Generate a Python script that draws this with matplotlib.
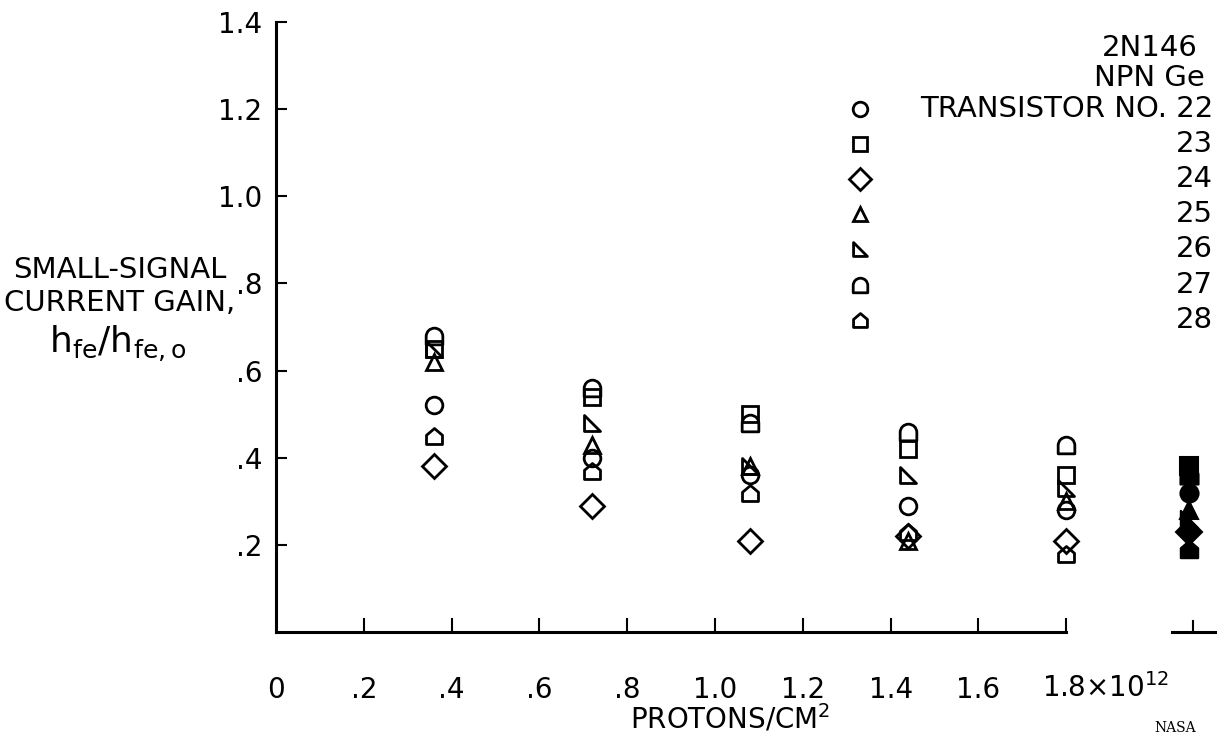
import numpy as np
import matplotlib
matplotlib.use("Agg")
import matplotlib.pyplot as plt
import matplotlib.path as mpath

# ── data ────────────────────────────────────────────────────────────
fluence = [0.36, 0.72, 1.08, 1.44, 1.80]          # x 10^12 protons/cm^2
transistors = ["22", "23", "24", "25", "26", "27", "28"]

gain_22 = [0.52, 0.40, 0.36, 0.29, 0.28]
gain_23 = [0.65, 0.54, 0.50, 0.42, 0.36]
gain_24 = [0.38, 0.29, 0.21, 0.22, 0.21]
gain_25 = [0.62, 0.43, 0.38, 0.21, 0.30]
gain_26 = [0.65, 0.48, 0.38, 0.36, 0.33]
gain_27 = [0.68, 0.56, 0.48, 0.46, 0.43]
gain_28 = [0.45, 0.37, 0.32, 0.23, 0.18]

# solid symbols at the broken-off end of the axis
x_final = 2.08
final_gain = [0.32, 0.38, 0.23, 0.28, 0.26, 0.36, 0.19]

xtick_vals = [0, 0.2, 0.4, 0.6, 0.8, 1.0, 1.2, 1.4, 1.6]
xtick_labels = ["0", ".2", ".4", ".6", ".8", "1.0", "1.2", "1.4", "1.6"]
ytick_vals = [0.2, 0.4, 0.6, 0.8, 1.0, 1.2, 1.4]
ytick_labels = [".2", ".4", ".6", ".8", "1.0", "1.2", "1.4"]

gains = [gain_22, gain_23, gain_24, gain_25, gain_26, gain_27, gain_28]

# ── marker shapes ───────────────────────────────────────────────────
P = mpath.Path
right_tri = P([(-1, -1), (-1, 1), (1, -1), (-1, -1)],
              [P.MOVETO, P.LINETO, P.LINETO, P.CLOSEPOLY])

arc = P.arc(0, 180)
d_verts = [(1, -1)] + list(arc.vertices) + [(-1, -1), (1, -1)]
d_codes = [P.MOVETO, P.LINETO] + list(arc.codes[1:]) + [P.LINETO, P.CLOSEPOLY]
dome = P(d_verts, d_codes)

house = P([(-1, -1), (1, -1), (1, 0.15), (0, 1), (-1, 0.15), (-1, -1)],
          [P.MOVETO, P.LINETO, P.LINETO, P.LINETO, P.LINETO, P.CLOSEPOLY])

markers = ['o', 's', 'D', '^', right_tri, dome, house]
sizes = [12, 11.5, 12.5, 11.5, 11.5, 12, 11.5]

# ── figure ──────────────────────────────────────────────────────────
plt.rcParams['font.family'] = 'DejaVu Sans'
FS = 21      # lettering
TFS = 20     # tick numbers

fig = plt.figure(figsize=(12.22, 7.37), dpi=100)
ax = fig.add_axes([276 / 1222, 105 / 737, 939 / 1222, 610 / 737])
ax.set_xlim(0, 2.139)
ax.set_ylim(0, 1.4)

for g, m, s in zip(gains, markers, sizes):
    ax.plot(fluence, g, ls='none', marker=m, ms=s, mfc='none',
            mec='black', mew=2.0, clip_on=False)

for v, m, s in zip(final_gain, markers, sizes):
    ax.plot([x_final], [v], ls='none', marker=m, ms=s + 1, mfc='black',
            mec='black', mew=1.5, clip_on=False)

# axes lines
for side in ['top', 'right']:
    ax.spines[side].set_visible(False)
ax.spines['left'].set_bounds(0, 1.4)
ax.spines['bottom'].set_bounds(0, 1.8)
ax.spines['left'].set_linewidth(2.2)
ax.spines['bottom'].set_linewidth(2.2)

ax.set_yticks(ytick_vals)
ax.set_yticklabels(ytick_labels)
ax.tick_params(axis='y', direction='in', length=8, width=1.5, pad=10,
               labelsize=TFS)
ax.set_xticks(xtick_vals[1:] + [1.8])
ax.set_xticklabels([])
ax.tick_params(axis='x', direction='in', length=10, width=1.5)

xt = ax.get_xaxis_transform()
for v, lab in zip(xtick_vals, xtick_labels):
    ax.text(v, -0.095, lab, transform=xt, ha='center', va='center',
            fontsize=TFS)
ax.text(1.745, -0.092, "1.8×10$^{12}$", transform=xt, ha='left',
        va='center', fontsize=TFS)

# stub of axis at the far right
ax.plot([2.04, 2.139], [0, 0], color='black', lw=2.2, clip_on=False)
ax.plot([2.09, 2.09], [0, 0.025], color='black', lw=1.5, clip_on=False)

ax.text(1.035, -0.142, "PROTONS/CM$^2$", transform=xt, ha='center',
        va='center', fontsize=20)

# y axis title
fig.text(120 / 1222, 1 - 270 / 737, "SMALL-SIGNAL", ha='center', va='center',
         fontsize=FS)
fig.text(120 / 1222, 1 - 303 / 737, "CURRENT GAIN,", ha='center', va='center',
         fontsize=FS)
fig.text(118 / 1222, 1 - 344 / 737,
         r"h$_{\mathregular{fe}}$/h$_{\mathregular{fe,o}}$",
         ha='center', va='center', fontsize=FS + 5)

# key
ax.text(1.99, 1.34, "2N146", ha='center', va='center', fontsize=FS)
ax.text(1.99, 1.272, "NPN Ge", ha='center', va='center', fontsize=FS)
key_y0, key_dy = 1.2, 0.0805
for i, (lab, m, s) in enumerate(zip(transistors, markers, sizes)):
    yk = key_y0 - i * key_dy
    ax.plot([1.33], [yk], ls='none', marker=m, ms=s - 1.5, mfc='none',
            mec='black', mew=2.0)
    txt = "TRANSISTOR NO. " + lab if i == 0 else lab
    ax.text(2.135, yk, txt, ha='right', va='center', fontsize=FS)

fig.text(1175 / 1222, 1 - 728 / 737, "NASA", ha='center', va='center',
         fontsize=10, family='DejaVu Serif')

fig.savefig('out.png', dpi=100)
